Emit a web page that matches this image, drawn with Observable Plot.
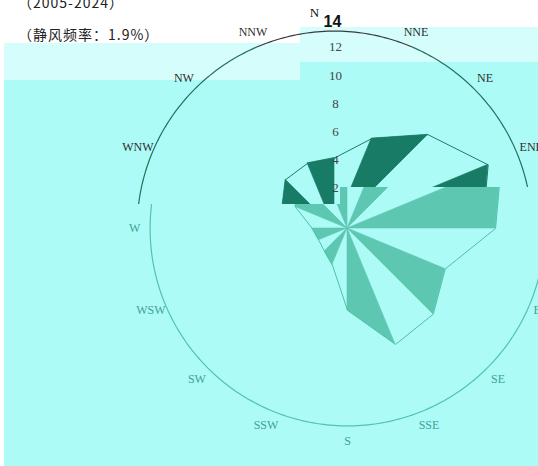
<!DOCTYPE html>
<html><head><meta charset="utf-8">
<script src="https://cdn.jsdelivr.net/npm/d3@7"></script>
<script src="https://cdn.jsdelivr.net/npm/@observablehq/plot@0.6"></script>
<style>
html,body{margin:0;padding:0;background:#fff;overflow:hidden;}
#wrap{position:relative;width:538px;height:466px;overflow:hidden;}
.bg{position:absolute;}
.t{position:absolute;font-family:"Noto Sans CJK SC";font-size:14px;color:#222;white-space:nowrap;line-height:20px;letter-spacing:1px;}
.layer{position:absolute;top:0;width:600px;height:466px;}
.layer svg{overflow:visible;}
</style></head><body>
<div id="wrap">
 <div class="bg" style="left:4px;top:43px;width:296px;height:37px;background:#d4fdfc"></div>
 <div class="bg" style="left:4px;top:80px;width:296px;height:386px;background:#adfbf7"></div>
 <div class="bg" style="left:300px;top:27px;width:238px;height:35px;background:#d4fdfc"></div>
 <div class="bg" style="left:300px;top:62px;width:238px;height:404px;background:#adfbf7"></div>
 <div id="lower" class="layer" style="left:0;clip-path:polygon(0 204px,340px 204px,340px 187px,600px 187px,600px 466px,0 466px)"></div>
 <div id="upper" class="layer" style="left:-13px;clip-path:polygon(0 0,600px 0,600px 187px,353px 187px,353px 204px,0 204px)"></div>
 <div class="t" style="left:18px;top:-8px">（2005-2024）</div>
 <div class="t" style="left:18px;top:24px">（静风频率：1.9%）</div>
</div>
<script>
// ---- data ----
const directions = ["N","NNE","NE","ENE","E","ESE","SE","SSE","S","SSW","SW","WSW","W","WNW","NW","NNW"];
const frequency  = [5.0, 6.9, 9.4, 11.8, 10.5, 7.5, 8.6, 8.9, 5.8, 2.8, 2.3, 2.2, 2.5, 4.0, 4.9, 5.0];
const radialTicks = [2, 4, 6, 8, 10, 12];
const outerTick = 14;

// ---- geometry helpers (data -> polar -> cartesian in % units) ----
const W = 538, H = 466, cx = 347, cy = 228, pxPer = 14.1;
const ang = i => i * 2 * Math.PI / directions.length;
const px = (r, a) => r * Math.sin(a);
const py = (r, a) => r * Math.cos(a);

const tips = directions.map((d, i) => ({d, x: px(frequency[i], ang(i)), y: py(frequency[i], ang(i))}));
const outline = [...tips, tips[0]];

const wedgeRows = [];
for (let i = 1; i < directions.length; i += 2) {
  const j = (i + 1) % directions.length;
  wedgeRows.push({k: i, x1: 0, y1: 0, x2: 0, y2: 0});
  wedgeRows.push({k: i, x1: tips[i].x, y1: tips[i].y, x2: tips[j].x, y2: tips[j].y});
}

const circle = d3.range(0, 361, 1).map(a => ({x: px(outerTick, a * Math.PI / 180), y: py(outerTick, a * Math.PI / 180)}));
const labelR = 15.1;
const dirLabels = directions.map((d, i) => ({d, x: px(labelR, ang(i)), y: py(labelR, ang(i))})).filter(o => o.d !== "N");
const upperLabels = dirLabels.filter(o => o.y > 3);
const lowerLabels = dirLabels.filter(o => o.y <= 3);

function rose(style) {
  const svg = Plot.plot({
    width: W, height: H, margin: 0,
    x: {domain: [-cx / pxPer, (W - cx) / pxPer], axis: null},
    y: {domain: [-(H - cy) / pxPer, cy / pxPer], axis: null},
    style: {background: "transparent", overflow: "visible"},
    marks: [
      Plot.line(circle, {x: "x", y: "y", stroke: style.circle, strokeWidth: 1.2}),
      Plot.area(wedgeRows, {x1: "x1", y1: "y1", x2: "x2", y2: "y2", z: "k", curve: "linear",
        fill: style.wedge, stroke: style.wedge, strokeWidth: 0.6}),
      Plot.line(outline, {x: "x", y: "y", stroke: style.outline, strokeWidth: 1}),
      style.ticks ? Plot.text(radialTicks, {x: () => 0, y: d => d, text: d => String(d), dx: 1, dy: -12,
        fontFamily: "Liberation Serif", fontSize: 13, fill: "#454545"}) : null,
      style.ticks ? Plot.text([outerTick], {x: () => 0, y: d => d, text: d => String(d), dx: -2, dy: -9,
        fontFamily: "Liberation Sans", fontWeight: "bold", fontSize: 16, fill: "#111"}) : null,
      style.ticks ? Plot.text(["N"], {x: () => 0, y: () => labelR, text: d => d, dx: -20, dy: -3,
        fontFamily: "Liberation Serif", fontSize: 13, fill: "#111"}) : null,
      Plot.text(style.labels, {x: "x", y: "y", text: "d", fontFamily: "Liberation Serif", fontSize: 12,
        fill: style.text})
    ]
  });
  if (style.defs) d3.select(svg).insert("defs", ":first-child").html(style.defs);
  return svg;
}

document.getElementById("upper").appendChild(rose({
  circle: "url(#gCirc)", wedge: "#187b65", outline: "#1c7d69", text: "#2e2e2e", ticks: true, labels: upperLabels,
  defs: `<linearGradient id="gCirc" gradientUnits="userSpaceOnUse" x1="0" y1="0" x2="0" y2="${H}">
    <stop offset="0.1" stop-color="#3a3a3a"/><stop offset="0.1" stop-color="#25705f"/></linearGradient>`
}));
document.getElementById("lower").appendChild(rose({
  circle: "#52c3b0", wedge: "#5ec7b1", outline: "#4fc0aa", text: "#3fa293", ticks: false, labels: lowerLabels
}));
</script>
</body></html>
